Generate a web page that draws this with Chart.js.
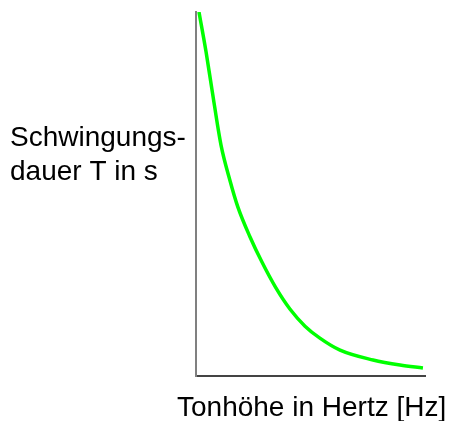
<!DOCTYPE html>
<html>
<head>
<meta charset="utf-8">
<script src="https://cdn.jsdelivr.net/npm/chart.js@4/dist/chart.umd.min.js"></script>
<style>
  html, body { margin: 0; padding: 0; background: #ffffff; }
  #wrap { width: 451px; height: 421px; position: relative; }
</style>
</head>
<body>
<div id="wrap"><canvas id="c"></canvas></div>
<script>
// Frequency (relative, 0..100) and period (relative, 0..100)
const frequency = [1.3, 4.4, 7.0, 10.9, 14.8, 18.3, 23.6, 28.8, 34.9, 41.0, 47.6, 54.1, 62.9, 77.3, 89.1, 99.1];
const period    = [100, 89.0, 78.6, 63.5, 53.8, 46.4, 38.2, 31.3, 24.2, 18.4, 13.7, 10.4, 7.1, 4.4, 3.0, 2.2];

const yLabelLines = ["Schwingungs-", "dauer T in s"];
const xLabel = "Tonhöhe in Hertz [Hz]";

const points = frequency.map((f, i) => ({ x: f, y: period[i] }));

const labelPlugin = {
  id: 'labels',
  afterDraw(chart) {
    const ctx = chart.ctx;
    ctx.save();
    ctx.fillStyle = '#000000';
    ctx.font = '28px "Liberation Sans", Arial, sans-serif';
    ctx.textAlign = 'left';
    ctx.textBaseline = 'alphabetic';
    ctx.fillText(yLabelLines[0], 10, 146);
    ctx.fillText(yLabelLines[1], 10, 180);
    ctx.fillText(xLabel, 177, 416);
    ctx.restore();
  }
};

new Chart(document.getElementById('c'), {
  type: 'scatter',
  data: {
    datasets: [{
      data: points,
      showLine: true,
      borderColor: '#00ff00',
      borderWidth: 3.5,
      pointRadius: 0,
      cubicInterpolationMode: 'monotone',
      fill: false
    }]
  },
  options: {
    responsive: true,
    maintainAspectRatio: false,
    animation: false,
    layout: { padding: { left: 196, right: 26, top: 12, bottom: 45 } },
    plugins: { legend: { display: false }, tooltip: { enabled: false } },
    scales: {
      x: {
        type: 'linear', min: 0, max: 100,
        ticks: { display: false },
        grid: { display: false },
        border: { display: true, color: '#444444', width: 2 },
        afterFit(s) { s.height = 0; }
      },
      y: {
        type: 'linear', min: 0, max: 100,
        ticks: { display: false },
        grid: { display: false },
        border: { display: true, color: '#808080', width: 2 },
        afterFit(s) { s.width = 0; }
      }
    }
  },
  plugins: [labelPlugin]
});
</script>
</body>
</html>
